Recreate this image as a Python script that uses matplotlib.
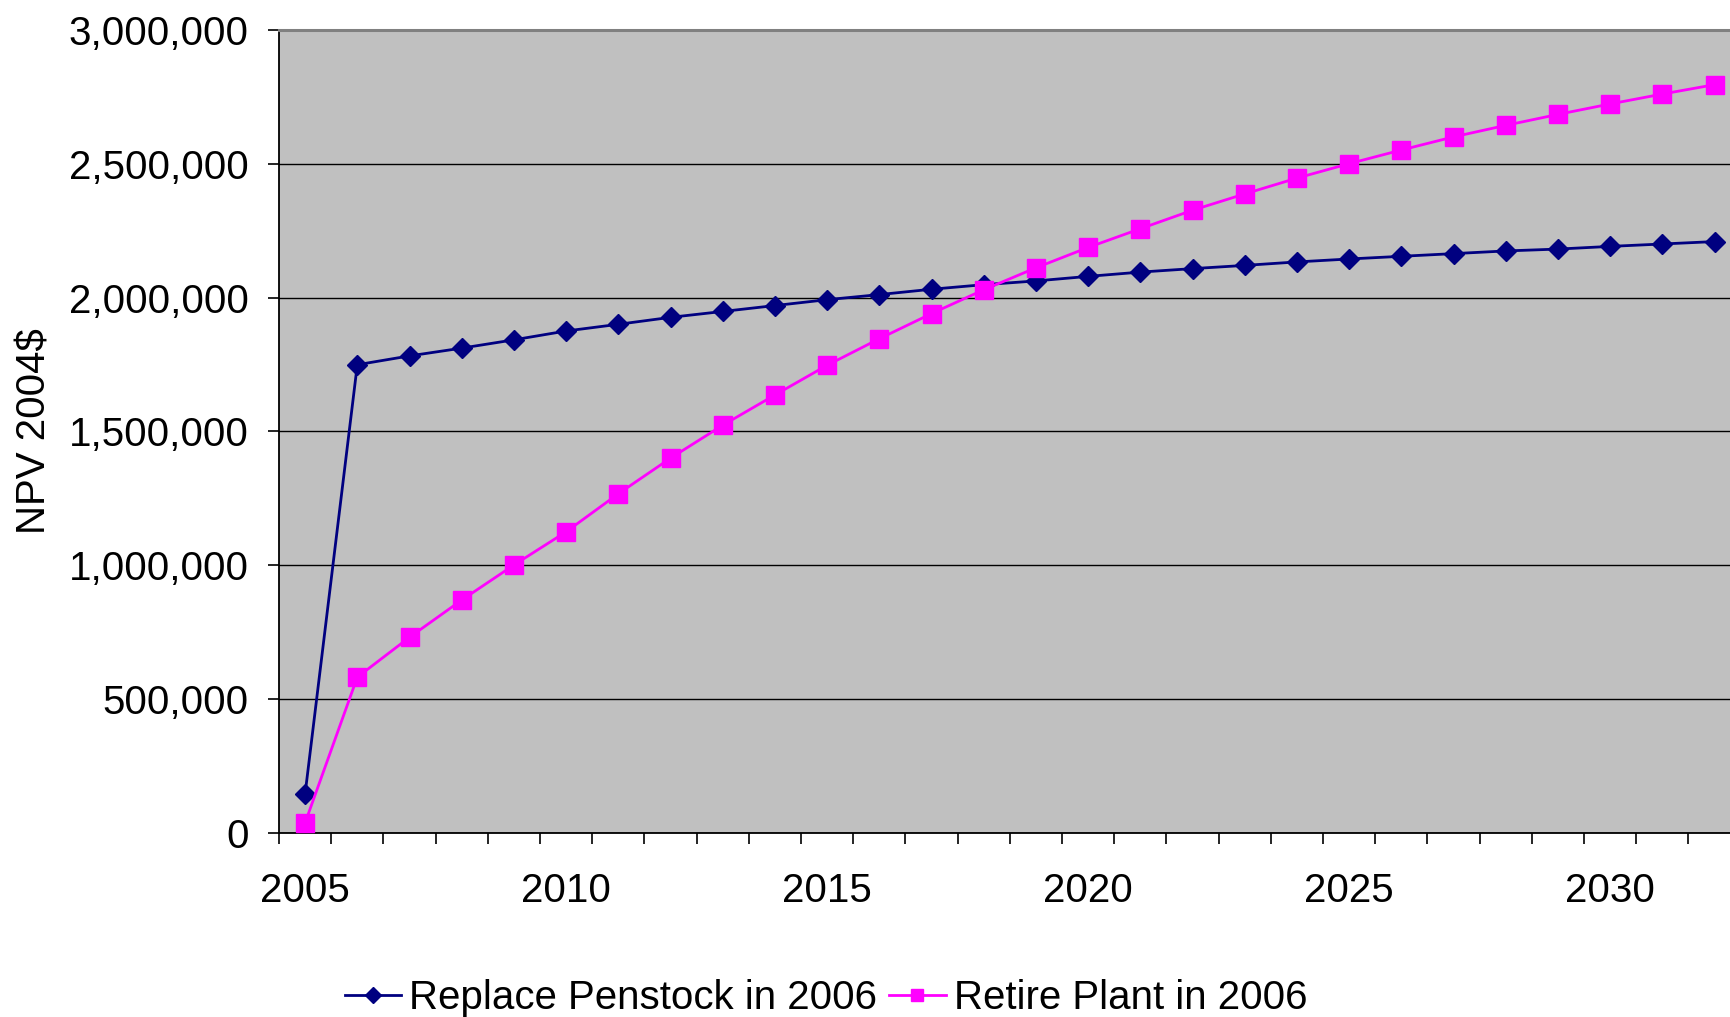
import matplotlib
matplotlib.use("Agg")
import matplotlib.pyplot as plt
from matplotlib.ticker import FixedLocator, FuncFormatter

plt.rcParams['font.family'] = ['Liberation Sans', 'DejaVu Sans']

# Years on the category axis
years = list(range(2005, 2033))

# NPV (2004 dollars) for each alternative
replace_penstock = [146000, 1749000, 1782000, 1811000, 1842000, 1875000,
                    1900000, 1926000, 1948000, 1970000, 1992000, 2011000,
                    2031000, 2048000, 2062000, 2079000, 2095000, 2108000,
                    2120000, 2133000, 2144000, 2154000, 2164000, 2174000,
                    2181000, 2191000, 2200000, 2209000]
retire_plant = [38000, 582000, 731000, 870000, 1001000, 1125000,
                1267000, 1400000, 1523000, 1636000, 1747000, 1846000,
                1940000, 2029000, 2111000, 2187000, 2257000, 2326000,
                2387000, 2446000, 2500000, 2551000, 2600000, 2643000,
                2684000, 2723000, 2760000, 2795000]

series_names = ["Replace Penstock in 2006", "Retire Plant in 2006"]
year_labels = [str(y) for y in years]
labeled_years = [2005, 2010, 2015, 2020, 2025, 2030]
y_ticks = [0, 500000, 1000000, 1500000, 2000000, 2500000, 3000000]

W, H = 1730, 1017
fig = plt.figure(figsize=(W / 100, H / 100), dpi=100)
fig.patch.set_facecolor("white")

left, top, bottom = 279, 29.8, 833
cat_w = 52.2
right = left + cat_w * len(years)
ax = fig.add_axes([left / W, 1 - bottom / H, (right - left) / W, (bottom - top) / H])
ax.set_facecolor("#C0C0C0")

x = list(range(len(years)))
FS = 29

ax.plot(x, replace_penstock, color="#000080", lw=2.0, marker="D",
        markersize=10, markerfacecolor="#000080", markeredgecolor="#000080",
        label=series_names[0], zorder=3, clip_on=False)
ax.plot(x, retire_plant, color="#FF00FF", lw=2.0, marker="s",
        markersize=12.5, markerfacecolor="#FF00FF", markeredgecolor="#FF00FF",
        label=series_names[1], zorder=4, clip_on=False)

ax.set_xlim(-0.5, len(years) - 0.5)
ax.set_ylim(0, 3000000)

# horizontal gridlines
ax.yaxis.set_major_locator(FixedLocator(y_ticks))
ax.yaxis.set_major_formatter(FuncFormatter(lambda v, p: f"{int(v):,}"))
ax.grid(axis="y", color="black", lw=1.0, zorder=1)
ax.set_axisbelow(True)

# category labels at centres, tick marks at category boundaries
label_pos = [years.index(y) for y in labeled_years]
ax.xaxis.set_major_locator(FixedLocator(label_pos))
ax.set_xticklabels([year_labels[i] for i in label_pos])
ax.xaxis.set_minor_locator(FixedLocator([i - 0.5 for i in range(len(years) + 1)]))
ax.tick_params(axis="x", which="major", length=0, pad=28, labelsize=FS)
ax.tick_params(axis="x", which="minor", length=8, width=1.2, direction="out", color="black")
ax.tick_params(axis="y", which="major", length=8, width=1.2, direction="out",
               pad=14, labelsize=FS, color="black")

for s in ["left", "bottom"]:
    ax.spines[s].set_color("black")
    ax.spines[s].set_linewidth(1.3)
ax.spines["top"].set_color("#808080")
ax.spines["top"].set_linewidth(2.2)
ax.spines["right"].set_visible(False)

fig.text(35 / W, 1 - ((top + bottom) / 2) / H, "NPV 2004$", rotation=90,
         ha="center", va="center", fontsize=FS)

handles, labels = ax.get_legend_handles_labels()
leg = fig.legend(handles, labels, loc="center", ncol=2, frameon=False,
                 fontsize=FS, bbox_to_anchor=(826 / W, 1 - 998 / H),
                 handlelength=1.4, handletextpad=0.2, columnspacing=0.3,
                 borderpad=0, borderaxespad=0)
for h in leg.legend_handles:
    h.set_markersize(8)

fig.savefig("out.png", dpi=100, facecolor="white")
